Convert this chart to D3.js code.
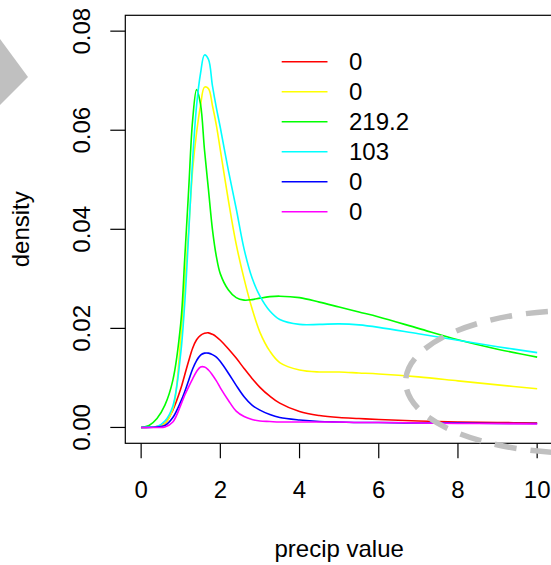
<!DOCTYPE html>
<html>
<head>
<meta charset="utf-8">
<script src="https://cdn.jsdelivr.net/npm/d3@7"></script>
<style>
  html, body { margin: 0; padding: 0; background: #ffffff; }
  svg { display: block; }
  text { font-family: "Liberation Sans", Arial, Helvetica, sans-serif; fill: #000; }
</style>
</head>
<body>
<svg id="chart" width="551" height="565"></svg>
<script>
// Evaluation grid of precipitation values shared by every density curve
const precip = [0, 0.2, 0.4, 0.6, 0.8, 1.0, 1.1, 1.2, 1.3, 1.4, 1.5, 1.6, 1.7, 1.8, 1.9,
                2.0, 2.2, 2.4, 2.6, 2.8, 3.0, 3.25, 3.5, 4, 4.5, 5, 5.5, 6, 7, 8, 9, 10];

// Density estimates, one array per series
const densRed     = [0, 0.00005, 0.0002, 0.0008, 0.0035, 0.0078, 0.0106, 0.0134, 0.0160, 0.0177, 0.0186, 0.0190, 0.0191, 0.0188, 0.0183,
                     0.0176, 0.0159, 0.0140, 0.0119, 0.0099, 0.0081, 0.0063, 0.0049, 0.0032, 0.0024, 0.0020, 0.0018, 0.0016, 0.0013, 0.0011, 0.0010, 0.0009];
const densYellow  = [0, 0.0001, 0.0002, 0.0008, 0.0037, 0.0180, 0.0290, 0.0400, 0.0520, 0.0595, 0.0650, 0.0687, 0.0684, 0.0650, 0.0610,
                     0.0560, 0.0460, 0.0370, 0.0300, 0.0240, 0.0192, 0.0154, 0.0131, 0.0116, 0.0112, 0.0112, 0.0110, 0.0108, 0.0102, 0.0094, 0.0086, 0.0078];
const densGreen   = [0, 0.0004, 0.0018, 0.0045, 0.0095, 0.0210, 0.0340, 0.0480, 0.0620, 0.0682, 0.0652, 0.0560, 0.0480, 0.0400, 0.0345,
                     0.0310, 0.0278, 0.0262, 0.0257, 0.0258, 0.0261, 0.0264, 0.0265, 0.0262, 0.0253, 0.0243, 0.0233, 0.0223, 0.0200, 0.0177, 0.0158, 0.0142];
const densCyan    = [0, 0.0001, 0.0002, 0.0013, 0.0043, 0.0150, 0.0250, 0.0390, 0.0540, 0.0650, 0.0715, 0.0752, 0.0743, 0.0690, 0.0645,
                     0.0605, 0.0520, 0.0442, 0.0360, 0.0302, 0.0265, 0.0235, 0.0218, 0.0208, 0.0208, 0.0209, 0.0207, 0.0202, 0.0189, 0.0176, 0.0163, 0.0151];
const densBlue    = [0, 0, 0.0001, 0.0004, 0.0020, 0.0052, 0.0072, 0.0095, 0.0118, 0.0135, 0.0146, 0.0150, 0.0150, 0.0147, 0.0142,
                     0.0133, 0.0110, 0.0085, 0.0062, 0.0045, 0.0035, 0.0026, 0.0020, 0.0015, 0.0012, 0.0011, 0.0010, 0.0010, 0.0009, 0.0009, 0.0008, 0.0008];
const densMagenta = [0, 0, 0, 0.0001, 0.0011, 0.0045, 0.0065, 0.0082, 0.0098, 0.0113, 0.0122, 0.0122, 0.0116, 0.0106, 0.0094,
                     0.0080, 0.0055, 0.0033, 0.0022, 0.0016, 0.0013, 0.0012, 0.0011, 0.0011, 0.0011, 0.0011, 0.0010, 0.0010, 0.0009, 0.0008, 0.0008, 0.0007];

const seriesColors = ["#ff0000", "#ffff00", "#00ff00", "#00ffff", "#0000ff", "#ff00ff"];
const legendLabels = ["0", "0", "219.2", "103", "0", "0"];
const xTicks = [0, 2, 4, 6, 8, 10];
const yTicks = [0, 0.02, 0.04, 0.06, 0.08];

const series = [densRed, densYellow, densGreen, densCyan, densBlue, densMagenta];

const svg = d3.select("#chart");
const plot = { left: 125.3, right: 553, top: 15.3, bottom: 443.3 };

// R-style 4% padding around the data ranges
const x = d3.scaleLinear().domain([-0.4, 10.4]).range([plot.left, plot.right]);
const y = d3.scaleLinear().domain([-0.0032, 0.0832]).range([plot.bottom, plot.top]);

const FONT = 24;

// Decorative grey arrow head at the left edge
svg.append("polygon")
  .attr("points", "0,39 28,77 0,105")
  .attr("fill", "#c0c0c0");

// Density curves
const line = d3.line()
  .x((d, i) => x(precip[i]))
  .y(d => y(d))
  .curve(d3.curveCatmullRom.alpha(0.5));

svg.append("g").selectAll("path")
  .data(series)
  .join("path")
  .attr("d", d => line(d))
  .attr("fill", "none")
  .attr("stroke", (d, i) => seriesColors[i])
  .attr("stroke-width", 1.6);

// Plot frame
svg.append("rect")
  .attr("x", plot.left).attr("y", plot.top)
  .attr("width", plot.right - plot.left).attr("height", plot.bottom - plot.top)
  .attr("fill", "none").attr("stroke", "#000").attr("stroke-width", 1.2);

// Bottom axis
const xAxis = svg.append("g");
xAxis.selectAll("line").data(xTicks).join("line")
  .attr("x1", d => x(d)).attr("x2", d => x(d))
  .attr("y1", plot.bottom).attr("y2", plot.bottom + 15)
  .attr("stroke", "#000").attr("stroke-width", 1.2);
xAxis.selectAll("text").data(xTicks).join("text")
  .attr("x", d => x(d)).attr("y", 497.5)
  .attr("text-anchor", "middle")
  .attr("font-size", FONT)
  .text(d => d3.format("d")(d));

// Left axis
const yAxis = svg.append("g");
yAxis.selectAll("line").data(yTicks).join("line")
  .attr("x1", plot.left - 15).attr("x2", plot.left)
  .attr("y1", d => y(d)).attr("y2", d => y(d))
  .attr("stroke", "#000").attr("stroke-width", 1.2);
yAxis.selectAll("text").data(yTicks).join("text")
  .attr("transform", d => `translate(90,${y(d)}) rotate(-90)`)
  .attr("text-anchor", "middle")
  .attr("font-size", FONT)
  .text(d => d3.format(".2f")(d));

// Axis titles
svg.append("text")
  .attr("x", (plot.left + plot.right) / 2).attr("y", 556.5)
  .attr("text-anchor", "middle").attr("font-size", FONT)
  .text("precip value");
svg.append("text")
  .attr("transform", `translate(28.5,${(plot.top + plot.bottom) / 2}) rotate(-90)`)
  .attr("text-anchor", "middle").attr("font-size", FONT)
  .text("density");

// Legend
const legend = svg.append("g");
const rows = legend.selectAll("g").data(legendLabels).join("g")
  .attr("transform", (d, i) => `translate(0,${61.7 + i * 30})`);
rows.append("line")
  .attr("x1", 281.7).attr("x2", 327.5).attr("y1", 0).attr("y2", 0)
  .attr("stroke", (d, i) => seriesColors[i]).attr("stroke-width", 1.6);
rows.append("text")
  .attr("x", 349).attr("y", 8.6)
  .attr("font-size", FONT)
  .text(d => d);

// Decorative dashed grey ellipse at the lower right
const ex = 575.7, ey = 381.7, erx = 170, ery = 71.2;
svg.append("path")
  .attr("d", `M${ex - erx},${ey} A${erx},${ery} 0 1 0 ${ex + erx},${ey} A${erx},${ery} 0 1 0 ${ex - erx},${ey}`)
  .attr("fill", "none")
  .attr("stroke", "#c0c0c0")
  .attr("stroke-width", 5.5)
  .attr("stroke-dasharray", "22,14")
  .attr("stroke-dashoffset", 28);
</script>
</body>
</html>
